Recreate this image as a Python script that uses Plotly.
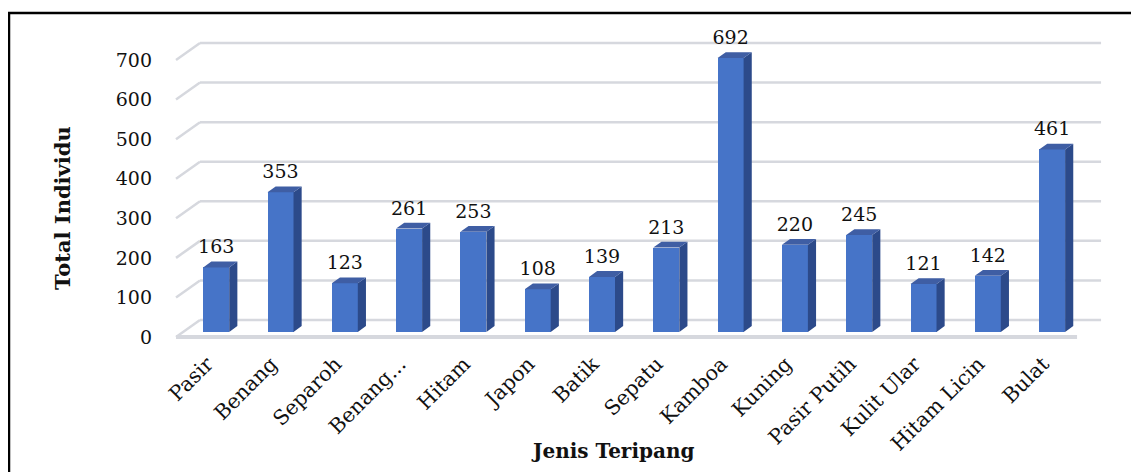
import plotly.graph_objects as go

# ---------------- data ----------------
categories = ["Pasir", "Benang", "Separoh", "Benang...", "Hitam", "Japon", "Batik",
              "Sepatu", "Kamboa", "Kuning", "Pasir Putih", "Kulit Ular", "Hitam Licin", "Bulat"]
values = [163, 353, 123, 261, 253, 108, 139, 213, 692, 220, 245, 121, 142, 461]
y_ticks = [0, 100, 200, 300, 400, 500, 600, 700]
x_title = "Jenis Teripang"
y_title = "Total Individu"

# ---------------- geometry / style ----------------
FIG_W, FIG_H = 1139, 472
OFF = 8              # page body margin of the browser
L, R, T, B = 157, 37, 28, 139
PW, PH = FIG_W - L - R, FIG_H - T - B
PX_X = 64.3          # pixels per category
PX_Y = 0.3957        # pixels per value unit
X0_PX = 209 - OFF    # pixel of category 0 on the front plane
Y0_PX = 337 - OFF    # pixel of value 0 on the front plane
xmin = -(X0_PX - L) / PX_X
xmax = xmin + PW / PX_X
ymin = -((FIG_H - B) - Y0_PX) / PX_Y
ymax = ymin + PH / PX_Y

DEPTH_DX = 24 / PX_X     # full depth offset in x units
DEPTH_DY = 17 / PX_Y     # full depth offset in y units
BAR_DEPTH0 = 0.3         # bars front face depth fraction
BAR_DEPTH = 0.34         # bar thickness fraction
BAR_W = 26 / PX_X

FONT = "DejaVu Serif"
GRID = "#d6d8de"
FRONT = "#4674c8"
SIDE = "#2c4a8a"
TOP = "#3f5ea4"

n = len(categories)
xs = list(range(n))
left_edge = -0.513
right_edge = n - 1 + 0.5

bx = [x + BAR_DEPTH0 * DEPTH_DX for x in xs]
base = BAR_DEPTH0 * DEPTH_DY
ddx = BAR_DEPTH * DEPTH_DX
ddy = BAR_DEPTH * DEPTH_DY

fig = go.Figure()

# front faces
fig.add_trace(go.Bar(x=bx, y=values, base=[base] * n, width=BAR_W,
                     marker=dict(color=FRONT, line=dict(width=0)),
                     hoverinfo="skip", showlegend=False))

# side faces and top faces (polygons computed from data)
sx, sy, tx, ty = [], [], [], []
for x, v in zip(bx, values):
    xr = x + BAR_W / 2
    xl = x - BAR_W / 2
    top = base + v
    sx += [xr, xr + ddx, xr + ddx, xr, xr, None]
    sy += [base, base + ddy, top + ddy, top, base, None]
    tx += [xl, xr, xr + ddx, xl + ddx, xl, None]
    ty += [top, top, top + ddy, top + ddy, top, None]
fig.add_trace(go.Scatter(x=sx, y=sy, fill="toself", fillcolor=SIDE, mode="lines",
                         line=dict(width=0, color=SIDE), hoverinfo="skip", showlegend=False))
fig.add_trace(go.Scatter(x=tx, y=ty, fill="toself", fillcolor=TOP, mode="lines",
                         line=dict(width=0, color=TOP), hoverinfo="skip", showlegend=False))

# data labels
fig.add_trace(go.Scatter(x=bx, y=[base + v + ddy + 9 for v in values], mode="text",
                         text=[str(v) for v in values], textposition="top center",
                         textfont=dict(family=FONT, size=19, color="#111111"),
                         hoverinfo="skip", showlegend=False, cliponaxis=False))

# back wall grid lines and side stubs
shapes = []
for v in y_ticks:
    if v == 0:
        continue
    shapes.append(dict(type="line", xref="x", yref="y", layer="below",
                       x0=left_edge + DEPTH_DX, y0=v + DEPTH_DY,
                       x1=right_edge + DEPTH_DX, y1=v + DEPTH_DY,
                       line=dict(color=GRID, width=2.5)))
    shapes.append(dict(type="line", xref="x", yref="y", layer="below",
                       x0=left_edge, y0=v, x1=left_edge + DEPTH_DX, y1=v + DEPTH_DY,
                       line=dict(color=GRID, width=2.5)))
# floor
shapes.append(dict(type="line", xref="x", yref="y", layer="below",
                   x0=left_edge + DEPTH_DX, y0=DEPTH_DY, x1=right_edge + DEPTH_DX, y1=DEPTH_DY,
                   line=dict(color=GRID, width=2.5)))
shapes.append(dict(type="line", xref="x", yref="y", layer="below",
                   x0=left_edge, y0=0, x1=left_edge + DEPTH_DX, y1=DEPTH_DY,
                   line=dict(color=GRID, width=2.5)))
shapes.append(dict(type="line", xref="x", yref="y", layer="below",
                   x0=left_edge, y0=0, x1=right_edge, y1=0,
                   line=dict(color=GRID, width=4)))


def px_x(p):
    return (p - OFF - L) / PW


def px_y(p):
    return ((FIG_H - B) - (p - OFF)) / PH


# outer border
shapes.append(dict(type="rect", xref="paper", yref="paper",
                   x0=px_x(9), y0=px_y(FIG_H + 40), x1=px_x(FIG_W + 40), y1=px_y(13),
                   line=dict(color="black", width=2.5), fillcolor="rgba(0,0,0,0)"))

annotations = [
    dict(text=f"<b>{x_title}</b>", xref="paper", yref="paper", x=px_x(612), y=px_y(451),
         showarrow=False, font=dict(family=FONT, size=20, color="#111111"),
         xanchor="center", yanchor="middle"),
    dict(text=f"<b>{y_title}</b>", xref="paper", yref="paper", x=px_x(62), y=px_y(208),
         showarrow=False, textangle=-90, font=dict(family=FONT, size=21, color="#111111"),
         xanchor="center", yanchor="middle"),
]

fig.update_layout(
    width=FIG_W, height=FIG_H,
    margin=dict(l=L, r=R, t=T, b=B, pad=0),
    paper_bgcolor="white", plot_bgcolor="white",
    shapes=shapes, annotations=annotations,
    bargap=0,
    xaxis=dict(range=[xmin, xmax], tickvals=[x - 0.03 for x in xs], ticktext=categories,
               tickangle=-45, showgrid=False, zeroline=False, showline=False, ticks="",
               tickfont=dict(family=FONT, size=20.5, color="#111111"), ticklabelstandoff=6,
               fixedrange=True),
    yaxis=dict(range=[ymin, ymax], tickvals=y_ticks, ticktext=[str(v) for v in y_ticks],
               showgrid=False, zeroline=False, showline=False, ticks="",
               tickfont=dict(family=FONT, size=19, color="#111111"), ticklabelstandoff=12,
               fixedrange=True),
)

fig.write_html("out.html")
